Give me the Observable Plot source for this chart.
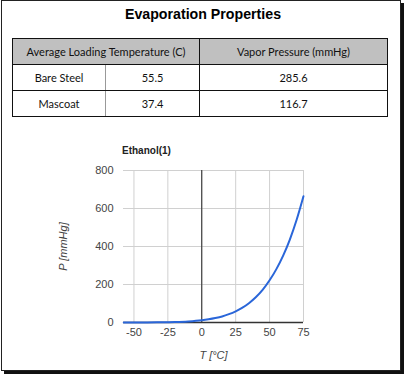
<!DOCTYPE html>
<html>
<head>
<meta charset="utf-8">
<script src="https://cdn.jsdelivr.net/npm/d3@7"></script>
<script src="https://cdn.jsdelivr.net/npm/@observablehq/plot@0.6"></script>
<style>
  html, body { margin: 0; padding: 0; background: #fff; }
  #card {
    position: relative; width: 406px; height: 376px; box-sizing: border-box;
    overflow: hidden; background: #fff;
  }
  #frame {
    position: absolute; left: 1px; top: 0px; width: 400px; height: 371px;
    border: 1px solid #222; box-shadow: 3px 3px 0 #111; box-sizing: border-box;
  }
  #title {
    position: absolute; left: 0; width: 406px; top: 6px; text-align: center;
    font: bold 14.2px "Liberation Sans", Arial, sans-serif; color: #000;
  }
  table {
    position: absolute; left: 12px; top: 38px; border-collapse: collapse;
    font: 11px Lato, "Open Sans", sans-serif; color: #111; table-layout: fixed;
  }
  td, th { height: 25px; padding: 0; text-align: center; font-weight: normal;
    border: 1px solid #111; }
  th { background: #c0c0c0; }
  td.c1 { border-right: 1px solid #999; }
  td.c2 { border-left: 1px solid #999; }
  #ctitle {
    position: absolute; left: 122px; top: 145px;
    font: bold 10px "Liberation Sans", Arial, sans-serif; color: #222;
  }
  #chart { position: absolute; left: 0; top: 140px; }
  #chart svg g[aria-label="x-axis label"] text,
  #chart svg g[aria-label="y-axis label"] text { font-style: italic; }
</style>
</head>
<body>
<div id="card">
  <div id="frame"></div>
  <div id="title">Evaporation Properties</div>
  <div id="tablewrap"></div>
  <div id="ctitle">Ethanol(1)</div>
  <div id="chart"></div>
</div>
<script>
// ---- table data ----
const tableTitle = "Evaporation Properties";
const headers = ["Average Loading Temperature (C)", "Vapor Pressure (mmHg)"];
const rowLabels = ["Bare Steel", "Mascoat"];
const loadingTemps = ["55.5", "37.4"];
const vaporPressures = ["285.6", "116.7"];

// ---- chart data ----
const chartTitle = "Ethanol(1)";
const temps =     [-57.5, -50, -40, -30, -20, -10, 0, 5, 10, 15, 20, 25, 30, 35, 40, 45, 50, 55, 60, 65, 70, 75];
const pressures = [0.1, 0.2, 0.4, 1.0, 2.5, 5.6, 11.8, 17, 23.6, 32, 44, 59, 78, 103, 134, 173, 222, 281, 352, 438, 542, 665];
const xTicks = [-50, -25, 0, 25, 50, 75];
const yTicks = [0, 200, 400, 600, 800];
const xLabel = "T [°C]";
const yLabel = "P [mmHg]";

// ---- table ----
const tbl = d3.select("#tablewrap").append("table").style("width", "375px");
const colW = [93, 94, 188];
const cg = tbl.append("colgroup");
colW.forEach(w => cg.append("col").style("width", w + "px"));
const hr = tbl.append("tr");
hr.append("th").attr("colspan", 2).text(headers[0]);
hr.append("th").text(headers[1]);
rowLabels.forEach((r, i) => {
  const tr = tbl.append("tr");
  tr.append("td").attr("class", "c1").text(r);
  tr.append("td").attr("class", "c2").text(loadingTemps[i]);
  tr.append("td").text(vaporPressures[i]);
});

// ---- chart ----
const data = temps.map((t, i) => ({T: t, P: pressures[i]}));
const chart = Plot.plot({
  width: 406,
  height: 236,
  marginLeft: 123,
  marginRight: 103,
  marginTop: 30,
  marginBottom: 54,
  style: {fontFamily: "'Liberation Sans', Arial, sans-serif", fontSize: "11px", color: "#444", background: "transparent"},
  x: {domain: [-57.7, 75]},
  y: {domain: [0, 800]},
  marks: [
    Plot.gridX(xTicks, {stroke: "#d0d0d0", strokeOpacity: 1}),
    Plot.gridY(yTicks, {stroke: "#d0d0d0", strokeOpacity: 1}),
    Plot.ruleX([0], {stroke: "#222", strokeWidth: 1}),
    Plot.ruleY([0], {stroke: "#333", strokeWidth: 1.5}),
    Plot.line(data, {x: "T", y: "P", stroke: "#2a66d9", strokeWidth: 2, curve: "monotone-x"}),
    Plot.axisX(xTicks, {tickSize: 0, tickPadding: 6, tickFormat: d => String(d), label: xLabel, labelAnchor: "center", labelOffset: 36, labelArrow: "none"}),
    Plot.axisY(yTicks, {tickSize: 0, tickPadding: 10, tickFormat: d => String(d), label: yLabel, labelAnchor: "center", labelOffset: 64, labelArrow: "none"})
  ]
});
document.getElementById("chart").appendChild(chart);
</script>
</body>
</html>
